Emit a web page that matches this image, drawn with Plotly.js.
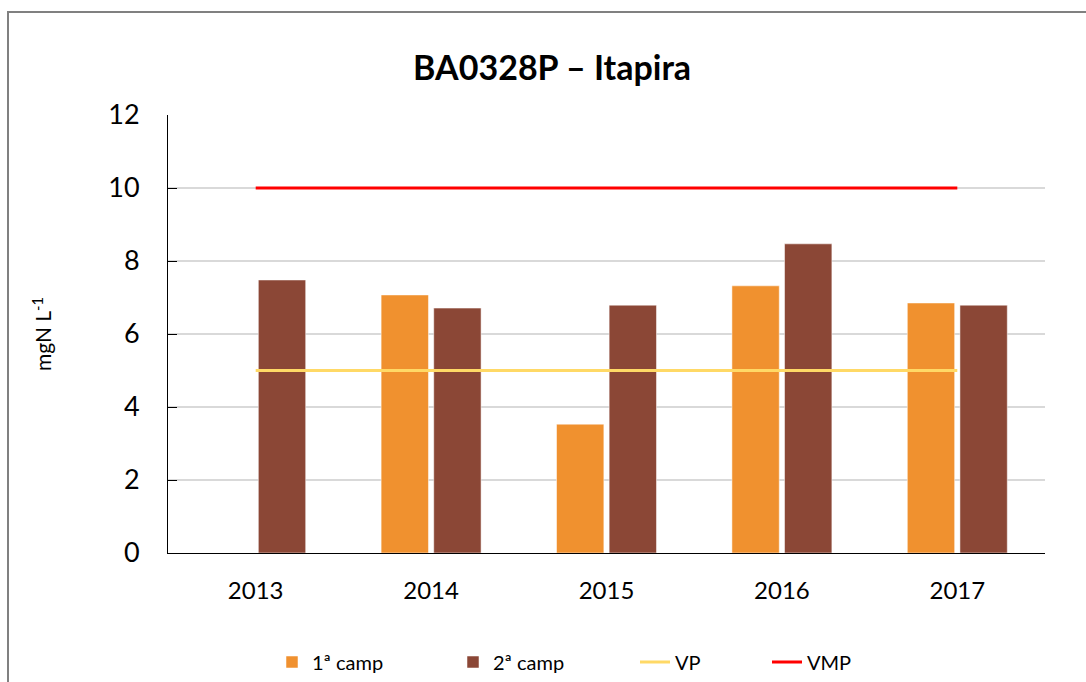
<!DOCTYPE html>
<html>
<head>
<meta charset="utf-8">
<script src="https://cdn.plot.ly/plotly-3.0.1.min.js"></script>
<style>
  html, body { margin: 0; padding: 0; background: #fff; }
  #frame { position: absolute; left: 7px; top: 11px; width: 1100px; height: 700px;
           border-top: 2px solid #808080; border-left: 2px solid #808080; pointer-events: none; z-index: 5; }
  #chart { position: absolute; left: 0; top: 0; width: 1086px; height: 682px; }
</style>
</head>
<body>
<div id="chart"></div>
<div id="frame"></div>
<script>
const years = ["2013", "2014", "2015", "2016", "2017"];
const camp1 = [null, 7.07, 3.53, 7.32, 6.85];
const camp2 = [7.48, 6.71, 6.79, 8.47, 6.79];
const vp = [5, 5, 5, 5, 5];
const vmp = [10, 10, 10, 10, 10];
const yTicks = [0, 2, 4, 6, 8, 10, 12];

const FONT = "Lato, 'Noto Sans', sans-serif";

const traces = [
  { type: "bar", name: "1ª camp", x: years, y: camp1, legend: "legend",
    marker: { color: "#F0912F", line: { color: "rgba(255,255,255,0.5)", width: 1 } } },
  { type: "bar", name: "2ª camp", x: years, y: camp2, legend: "legend2",
    marker: { color: "#8B4736", line: { color: "rgba(255,255,255,0.5)", width: 1 } } },
  { type: "scatter", mode: "lines", name: "VP", x: years, y: vp, legend: "legend3",
    line: { color: "#FFD966", width: 3 } },
  { type: "scatter", mode: "lines", name: "VMP", x: years, y: vmp, legend: "legend4",
    line: { color: "#FF0000", width: 3 } }
];

function leg(px) {
  return { orientation: "h", xref: "container", yref: "container", x: px / 1086, xanchor: "left",
           y: 1 - 662 / 682, yanchor: "middle", font: { size: 20, family: FONT, color: "#000" },
           itemwidth: 30, bgcolor: "rgba(0,0,0,0)" };
}

const layout = {
  width: 1086, height: 682,
  margin: { l: 168, r: 41, t: 115, b: 129 },
  paper_bgcolor: "#fff", plot_bgcolor: "#fff",
  font: { family: FONT, color: "#000" },
  title: { text: "<b>BA0328P – Itapira</b>", font: { family: FONT, size: 34, color: "#000" },
           xref: "paper", x: 0.438, xanchor: "center", y: 0.9, yanchor: "middle" },
  barmode: "group", bargap: 0.4, bargroupgap: 0.1,
  xaxis: { type: "category", showgrid: false, showline: true, linecolor: "#000", linewidth: 1,
           ticks: "", ticklabelstandoff: 16,
           tickfont: { size: 24, family: FONT, color: "#000" }, fixedrange: true },
  yaxis: { range: [0, 12], tickvals: yTicks, ticktext: yTicks.map(String),
           showgrid: true, gridcolor: "#D9D9D9", gridwidth: 1.5, zeroline: false,
           showline: true, linecolor: "#000", linewidth: 1, ticks: "inside", ticklen: 9, tickcolor: "#000",
           ticklabelstandoff: 22,
           tickfont: { size: 27, family: FONT, color: "#000" },
           title: { text: "mgN L<sup>-1</sup>", font: { size: 21, family: FONT, color: "#000" }, standoff: 50 },
           fixedrange: true },
  legend: leg(272),
  legend2: leg(453),
  legend3: leg(635),
  legend4: leg(767),
  showlegend: true
};

Plotly.newPlot("chart", traces, layout, { displayModeBar: false, staticPlot: true });
</script>
</body>
</html>
